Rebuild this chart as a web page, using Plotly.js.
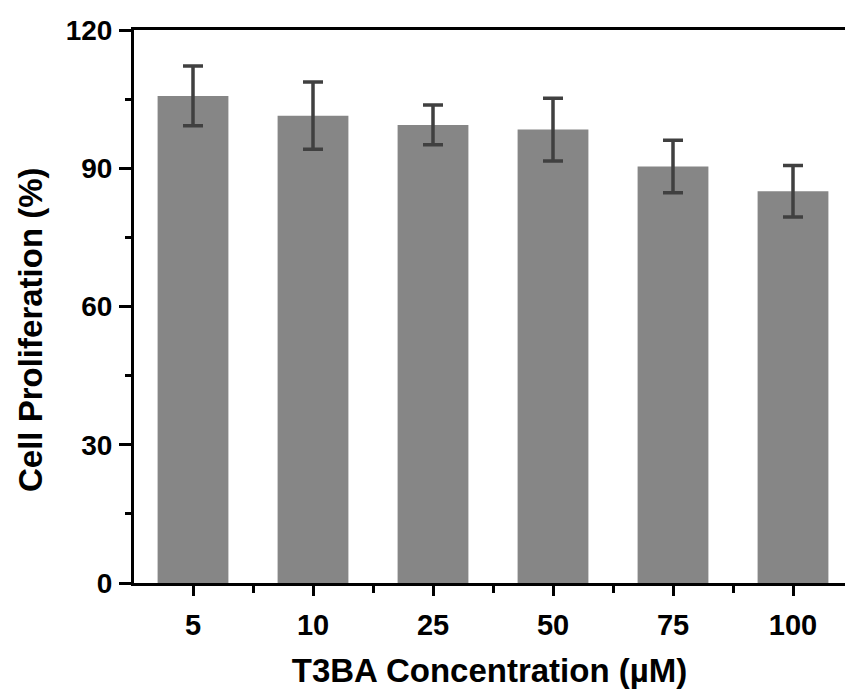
<!DOCTYPE html>
<html>
<head>
<meta charset="utf-8">
<script src="https://cdn.plot.ly/plotly-3.0.1.min.js"></script>
<style>html,body{margin:0;padding:0;background:#fff;}#chart{width:845px;height:691px;}</style>
</head>
<body>
<div id="chart"></div>
<script>
// Data
const concentrations = ["5", "10", "25", "50", "75", "100"];
const proliferation = [105.7, 101.4, 99.4, 98.4, 90.4, 85.0];
const errors = [6.5, 7.3, 4.3, 6.8, 5.7, 5.6];
const yTickValues = [0, 30, 60, 90, 120];

const FONT = "Liberation Sans, Arial, Helvetica, sans-serif";
const positions = concentrations.map((_, i) => i);

const trace = {
  type: "bar",
  x: positions,
  y: proliferation,
  width: 0.59,
  marker: {color: "#868686", line: {width: 0}},
  error_y: {type: "data", array: errors, visible: true, color: "#404040", thickness: 3.5, width: 10},
  hoverinfo: "x+y"
};

const layout = {
  width: 845,
  height: 691,
  margin: {l: 134, r: 0, t: 30, b: 108, pad: 0},
  paper_bgcolor: "#ffffff",
  plot_bgcolor: "#ffffff",
  showlegend: false,
  font: {family: FONT, color: "#000000"},
  xaxis: {
    range: [-0.4917, 5.4333],
    tickmode: "array",
    tickvals: positions,
    ticktext: concentrations,
    ticks: "outside",
    ticklen: 10,
    tickwidth: 3,
    tickcolor: "#000",
    showline: true,
    linewidth: 3,
    linecolor: "#000",
    mirror: true,
    showgrid: false,
    zeroline: false,
    tickfont: {family: FONT, size: 29, color: "#000", weight: "bold"},
    ticklabelstandoff: 4,
    minor: {tickmode: "linear", tick0: 0.5, dtick: 1, ticks: "outside", ticklen: 7, tickwidth: 3, tickcolor: "#000"},
    title: {text: "T3BA Concentration (µM)", font: {family: FONT, size: 33, color: "#000", weight: "bold"}, standoff: 20},
    fixedrange: true
  },
  yaxis: {
    range: [0, 120],
    tickmode: "array",
    tickvals: yTickValues,
    ticks: "outside",
    ticklen: 12,
    tickwidth: 3,
    tickcolor: "#000",
    showline: true,
    linewidth: 3,
    linecolor: "#000",
    mirror: false,
    showgrid: false,
    zeroline: false,
    tickfont: {family: FONT, size: 28, color: "#000", weight: "bold"},
    ticklabelstandoff: 1,
    minor: {tickmode: "linear", tick0: 15, dtick: 30, ticks: "outside", ticklen: 6, tickwidth: 3, tickcolor: "#000"},
    fixedrange: true
  },
  annotations: [{
    text: "Cell Proliferation (%)",
    xref: "paper", yref: "paper",
    x: 0, y: 0.4575,
    xshift: -104,
    xanchor: "center", yanchor: "middle",
    textangle: -90,
    showarrow: false,
    font: {family: FONT, size: 33, color: "#000", weight: "bold"}
  }]
};

Plotly.newPlot("chart", [trace], layout, {displayModeBar: false, staticPlot: true});
</script>
</body>
</html>
